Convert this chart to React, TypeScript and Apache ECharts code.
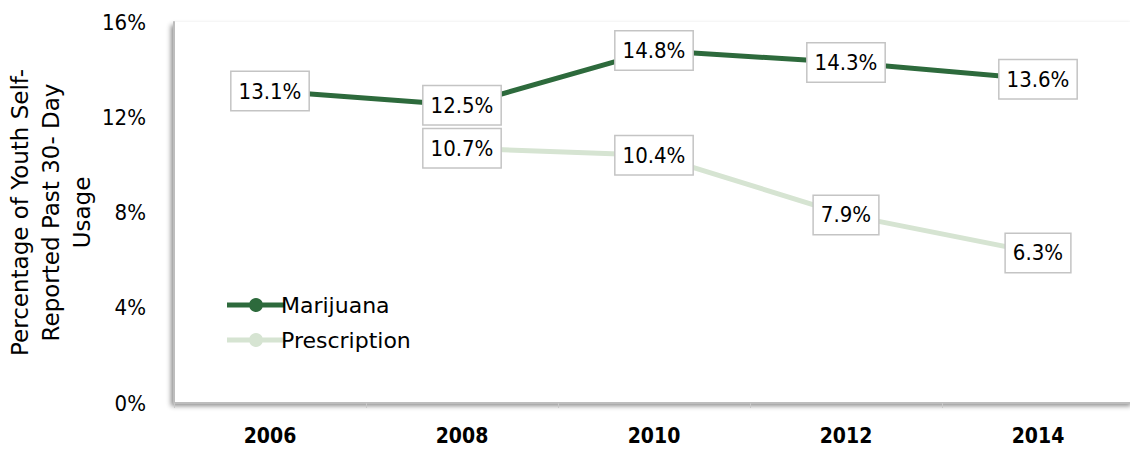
import React, { useEffect, useRef } from "react";
import * as echarts from "echarts";

const years = ["2006", "2008", "2010", "2012", "2014"];
const marijuana = [13.1, 12.5, 14.8, 14.3, 13.6];
const prescription = [null, 10.7, 10.4, 7.9, 6.3];
const yTicks = [0, 4, 8, 12, 16];

const NARROW = "'Liberation Sans Narrow', 'DejaVu Sans Condensed', 'Roboto Condensed', Roboto, sans-serif";
const GOTHIC = "'DejaVu Sans', sans-serif";
const ICON = "path://M0,4.5 L58,4.5 L58,9.5 L0,9.5 Z M29,0 A7,7 0 1 1 28.99,0 Z";

export default function App() {
  const ref = useRef<HTMLDivElement>(null);
  useEffect(() => {
    document.body.style.margin = "0";
    const chart = echarts.init(ref.current!, null, { renderer: "svg" });
    const label = {
      show: true,
      position: "inside",
      formatter: (p: any) => p.value.toFixed(1) + "%",
      fontFamily: NARROW,
      fontSize: 22,
      color: "#000",
      backgroundColor: "#fff",
      borderColor: "#c4c4c4",
      borderWidth: 1.5,
      padding: [9, 7, 7, 7],
    };
    chart.setOption({
      animation: false,
      grid: {
        left: 174,
        right: -4,
        top: 22,
        bottom: 48,
        outerBoundsMode: "none",
        containLabel: false,
        show: true,
        borderWidth: 0,
        backgroundColor: "#fff",
        shadowColor: "rgba(0,0,0,0.45)",
        shadowBlur: 5,
        shadowOffsetX: -3,
        shadowOffsetY: 3,
      },
      legend: {
        orient: "vertical",
        left: 222,
        top: 289,
        itemGap: 13,
        itemWidth: 58,
        itemHeight: 14,
        textStyle: { fontFamily: GOTHIC, fontSize: 22, color: "#000", padding: [0, 0, 0, -9] },
        data: [
          { name: "Marijuana", icon: ICON },
          { name: "Prescription", icon: ICON },
        ],
      },
      xAxis: {
        type: "category",
        data: years,
        boundaryGap: true,
        axisLine: { show: true, lineStyle: { color: "#bdbdbd", width: 2 } },
        axisTick: { show: true, length: 5, lineStyle: { color: "#c8c8c8" } },
        axisLabel: { fontFamily: NARROW, fontSize: 21, fontWeight: "bold", color: "#000", margin: 22 },
      },
      yAxis: {
        type: "value",
        min: 0,
        max: 16,
        interval: 4,
        name: "Percentage of Youth Self-\nReported Past 30- Day\nUsage",
        nameLocation: "middle",
        nameGap: 77,
        nameMoveOverlap: false,
        nameRotate: 90,
        nameTextStyle: { fontFamily: GOTHIC, fontSize: 23, color: "#000", lineHeight: 31 },
        axisLine: { show: true, lineStyle: { color: "#bdbdbd", width: 2 } },
        axisTick: { show: false },
        splitLine: { show: false },
        axisLabel: {
          fontFamily: NARROW,
          fontSize: 22,
          color: "#000",
          margin: 28,
          formatter: (v: number) => (yTicks.includes(v) ? v + "%" : ""),
        },
      },
      series: [
        {
          name: "Marijuana",
          type: "line",
          data: marijuana,
          color: "#2d6a3c",
          lineStyle: { width: 5, color: "#2d6a3c" },
          symbol: "circle",
          symbolSize: 8,
          label,
          z: 3,
        },
        {
          name: "Prescription",
          type: "line",
          data: prescription,
          color: "#d6e4d2",
          lineStyle: { width: 5, color: "#d6e4d2" },
          symbol: "circle",
          symbolSize: 8,
          label,
          z: 2,
        },
      ],
    });
    return () => chart.dispose();
  }, []);
  return <div ref={ref} style={{ width: 1130, height: 451 }} />;
}
